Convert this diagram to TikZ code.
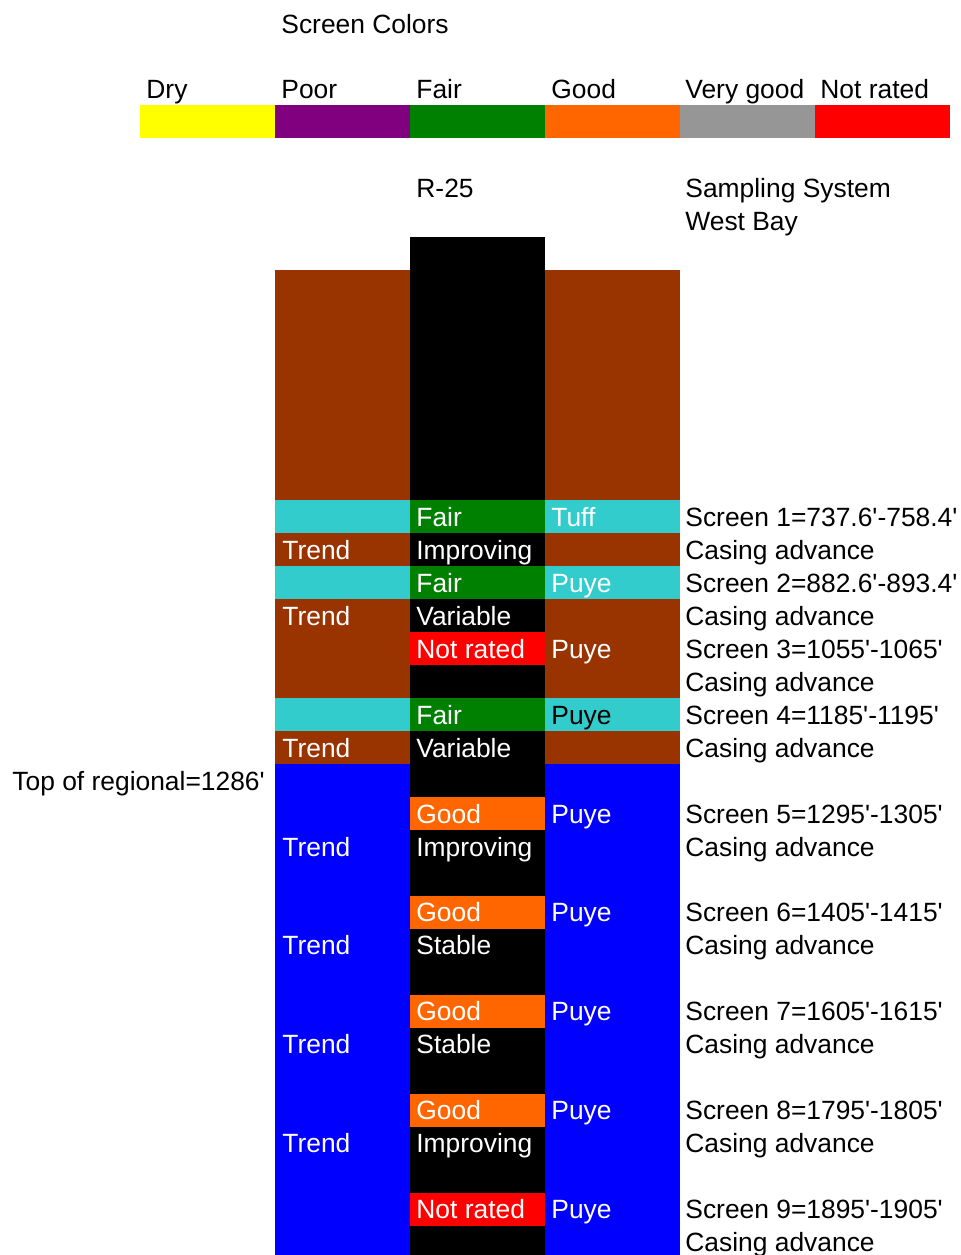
\documentclass[tikz,border=0pt]{standalone}
\usepackage{fontspec}
\setmainfont{Liberation Sans}[Ligatures=TeXOff]
\definecolor{cbrown}{HTML}{993300}
\definecolor{ccyan}{HTML}{33CCCC}
\definecolor{cgreen}{HTML}{008000}
\definecolor{corange}{HTML}{FF6600}
\definecolor{cgray}{HTML}{969696}
\definecolor{cred}{HTML}{FF0000}
\definecolor{cpurple}{HTML}{800080}
\definecolor{cyellow}{HTML}{FFFF00}
\definecolor{cblue}{HTML}{0000FF}
\begin{document}
\begin{tikzpicture}[x=0.5pt,y=-0.5pt,
  txt/.style={anchor=base west,inner sep=0pt,yshift=-0.5pt,font=\fontsize{13.2}{15}\selectfont,text=black},
  wtxt/.style={txt,text=white}]
\useasboundingbox (0,0) rectangle (961,1255);
% legend bar
\fill[cyellow] (140,105) rectangle (275,138);
\fill[cpurple] (275,105) rectangle (410,138);
\fill[cgreen]  (410,105) rectangle (545,138);
\fill[corange] (545,105) rectangle (680,138);
\fill[cgray]   (680,105) rectangle (815,138);
\fill[cred]    (815,105) rectangle (950,138);
% side columns
\foreach \xa/\xb in {275/410,545/680}{
  \fill[cbrown] (\xa,270) rectangle (\xb,764);
  \fill[cblue]  (\xa,764) rectangle (\xb,1255);
  \fill[ccyan]  (\xa,500) rectangle (\xb,533);
  \fill[ccyan]  (\xa,566) rectangle (\xb,599);
  \fill[ccyan]  (\xa,698) rectangle (\xb,731);
}
% middle column
\fill[black] (410,237) rectangle (545,1255);
\foreach \ya/\c in {500/cgreen,566/cgreen,632/cred,698/cgreen,797/corange,896/corange,995/corange,1094/corange,1193/cred}{
  \fill[\c] (410,\ya) rectangle (545,\ya+33);
}
% header texts
\node[txt] (title) at (281,32) {Screen Colors};
\node[txt] (ldry) at (146,97) {Dry};
\node[txt] (lpoor) at (281,97) {Poor};
\node[txt] (lfair) at (416,97) {Fair};
\node[txt] (lgood) at (551,97) {Good};
\node[txt] (lvgood) at (685,97) {Very good};
\node[txt] (lnr) at (820,97) {Not rated};
\node[txt] (well) at (416,196) {R-25};
\node[txt] (sys1) at (685,196) {Sampling System};
\node[txt] (sys2) at (685,229) {West Bay};
\node[txt] (regional) at (12,789) {Top of regional=1286'};
% left column
\node[wtxt] (t1) at (282,558) {Trend};
\node[wtxt] (t2) at (282,624) {Trend};
\node[wtxt] (t3) at (282,756) {Trend};
\node[wtxt] (t4) at (282,855) {Trend};
\node[wtxt] (t5) at (282,953) {Trend};
\node[wtxt] (t6) at (282,1052) {Trend};
\node[wtxt] (t7) at (282,1151) {Trend};
% middle column
\node[wtxt] (m1) at (416,525) {Fair};
\node[wtxt] (m2) at (416,558) {Improving};
\node[wtxt] (m3) at (416,591) {Fair};
\node[wtxt] (m4) at (416,624) {Variable};
\node[wtxt] (m5) at (416,657) {Not rated};
\node[wtxt] (m6) at (416,723) {Fair};
\node[wtxt] (m7) at (416,756) {Variable};
\node[wtxt] (m8) at (416,822) {Good};
\node[wtxt] (m9) at (416,855) {Improving};
\node[wtxt] (m10) at (416,920) {Good};
\node[wtxt] (m11) at (416,953) {Stable};
\node[wtxt] (m12) at (416,1019) {Good};
\node[wtxt] (m13) at (416,1052) {Stable};
\node[wtxt] (m14) at (416,1118) {Good};
\node[wtxt] (m15) at (416,1151) {Improving};
\node[wtxt] (m16) at (416,1217) {Not rated};
% right column
\node[wtxt] (r1) at (551,525) {Tuff};
\node[wtxt] (r2) at (551,591) {Puye};
\node[wtxt] (r3) at (551,657) {Puye};
\node[txt]  (r4) at (551,723) {Puye};
\node[wtxt] (r5) at (551,822) {Puye};
\node[wtxt] (r6) at (551,920) {Puye};
\node[wtxt] (r7) at (551,1019) {Puye};
\node[wtxt] (r8) at (551,1118) {Puye};
\node[wtxt] (r9) at (551,1217) {Puye};
% screen notes
\node[txt] (s1) at (685,525) {Screen 1=737.6'-758.4'};
\node[txt] (c1) at (685,558) {Casing advance};
\node[txt] (s2) at (685,591) {Screen 2=882.6'-893.4'};
\node[txt] (c2) at (685,624) {Casing advance};
\node[txt] (s3) at (685,657) {Screen 3=1055'-1065'};
\node[txt] (c3) at (685,690) {Casing advance};
\node[txt] (s4) at (685,723) {Screen 4=1185'-1195'};
\node[txt] (c4) at (685,756) {Casing advance};
\node[txt] (s5) at (685,822) {Screen 5=1295'-1305'};
\node[txt] (c5) at (685,855) {Casing advance};
\node[txt] (s6) at (685,920) {Screen 6=1405'-1415'};
\node[txt] (c6) at (685,953) {Casing advance};
\node[txt] (s7) at (685,1019) {Screen 7=1605'-1615'};
\node[txt] (c7) at (685,1052) {Casing advance};
\node[txt] (s8) at (685,1118) {Screen 8=1795'-1805'};
\node[txt] (c8) at (685,1151) {Casing advance};
\node[txt] (s9) at (685,1217) {Screen 9=1895'-1905'};
\node[txt] (c9) at (685,1250) {Casing advance};
\end{tikzpicture}
\end{document}
